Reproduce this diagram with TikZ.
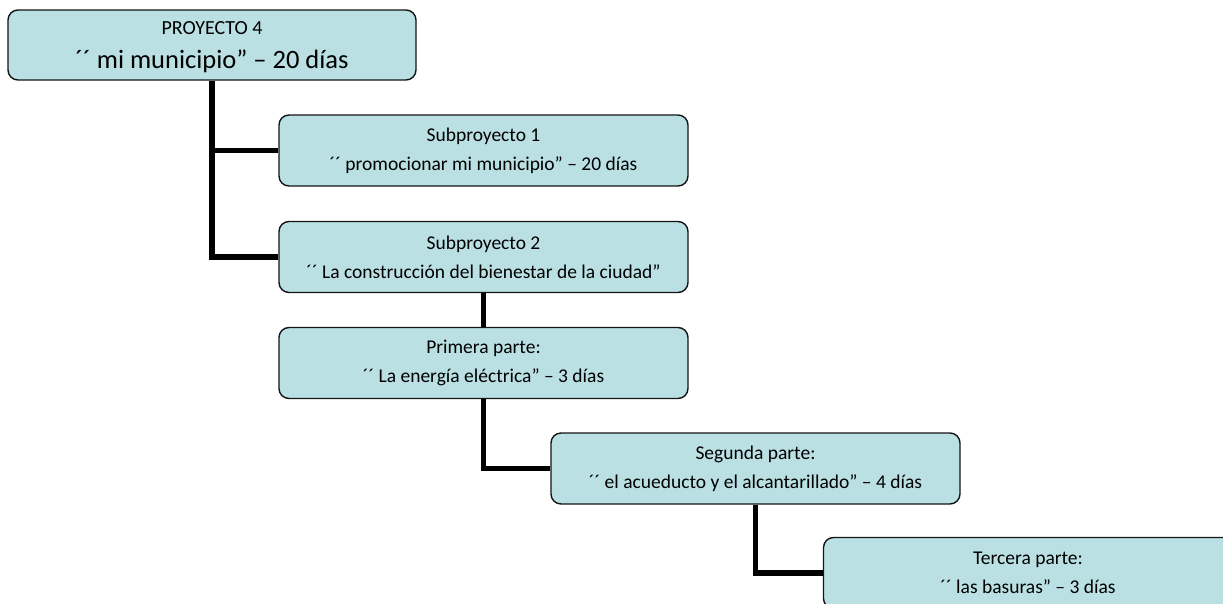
\documentclass[tikz,border=0pt]{standalone}
\usepackage{fontspec}
\setmainfont{Carlito}
\definecolor{boxfill}{RGB}{186,224,227}
\definecolor{boxline}{RGB}{20,20,20}
\tikzset{
  wbs/.style={draw=boxline, line width=1.4pt, fill=boxfill, rounded corners=10pt,
    minimum width=409pt, minimum height=71pt, inner sep=0pt, align=center,
    font=\fontsize{19.5}{29}\selectfont},
  link/.style={draw=black, line width=5.5pt}
}
\begin{document}
\begin{tikzpicture}[x=1pt,y=-1pt]
\useasboundingbox (0,0) rectangle (1223,603);
\node[wbs, minimum width=408pt, minimum height=70pt] (b1) at (212,45) {};
\node[align=center, inner sep=0pt, yshift=-2pt, font=\fontsize{20}{34}\selectfont] (t1) at (b1.center)
  {PROYECTO 4\\{\fontsize{26.5}{34}\selectfont ´´ mi municipio” – 20 días}};
\node[wbs] (b2) at (483.5,150.5) {Subproyecto 1\\´´ promocionar mi municipio” – 20 días};
\node[wbs] (b3) at (483.5,257) {Subproyecto 2\\´´ La construcción del bienestar de la ciudad”};
\node[wbs] (b4) at (483.5,363) {Primera parte:\\´´ La energía eléctrica” – 3 días};
\node[wbs] (b5) at (755.5,468.5) {Segunda parte:\\´´ el acueducto y el alcantarillado” – 4 días};
\node[wbs] (b6) at (1028,573) {Tercera parte:\\´´ las basuras” – 3 días};
\draw[link] (b1.south) |- (b2.west);
\draw[link] (b1.south) |- (b3.west);
\draw[link] (b3.south) -- (b4.north);
\draw[link] (b4.south) |- (b5.west);
\draw[link] (b5.south) |- (b6.west);
\end{tikzpicture}
\end{document}
